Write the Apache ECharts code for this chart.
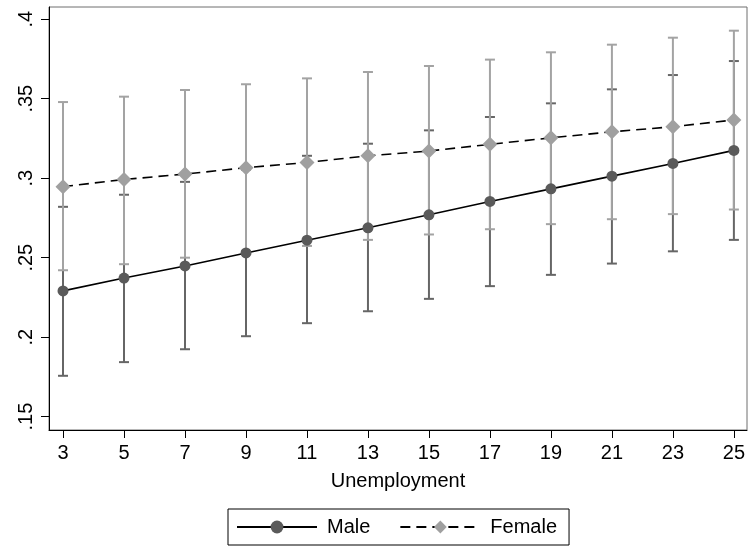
<!DOCTYPE html>
<html>
<head>
<meta charset="utf-8">
<script src="https://cdn.jsdelivr.net/npm/echarts@6/dist/echarts.min.js"></script>
<style>
html,body{margin:0;padding:0;background:#fff;}
#chart{width:750px;height:554px;}
</style>
</head>
<body>
<div id="chart"></div>
<script>
const xValues = [3, 5, 7, 9, 11, 13, 15, 17, 19, 21, 23, 25];
const maleMean = [0.2291, 0.2372, 0.2448, 0.2530, 0.2610, 0.2688, 0.2770, 0.2854, 0.2933, 0.3013, 0.3093, 0.3175];
const maleLow  = [0.1757, 0.1843, 0.1924, 0.2006, 0.2088, 0.2163, 0.2241, 0.2321, 0.2392, 0.2463, 0.2540, 0.2612];
const maleHigh = [0.2820, 0.2896, 0.2977, 0.3054, 0.3141, 0.3217, 0.3301, 0.3385, 0.3471, 0.3559, 0.3649, 0.3737];
const femaleMean = [0.2947, 0.2992, 0.3026, 0.3066, 0.3099, 0.3141, 0.3171, 0.3213, 0.3254, 0.3292, 0.3324, 0.3366];
const femaleLow  = [0.2421, 0.2459, 0.2500, 0.2539, 0.2574, 0.2612, 0.2646, 0.2679, 0.2711, 0.2742, 0.2774, 0.2803];
const femaleHigh = [0.3479, 0.3513, 0.3555, 0.3591, 0.3628, 0.3668, 0.3706, 0.3746, 0.3792, 0.3840, 0.3884, 0.3928];
const xTicks = [3, 5, 7, 9, 11, 13, 15, 17, 19, 21, 23, 25];
const yTicks = [0.15, 0.2, 0.25, 0.3, 0.35, 0.4];

const FONT = "'Liberation Sans', Arial, sans-serif";

function errorBars(low, high, color, z) {
  return {
    type: 'custom',
    z: z,
    silent: true,
    data: xValues.map((x, i) => [x, low[i], high[i]]),
    encode: { x: 0, y: [1, 2] },
    renderItem: function (params, api) {
      const x = api.value(0);
      const lo = api.coord([x, api.value(1)]);
      const hi = api.coord([x, api.value(2)]);
      const hw = 5;
      const st = { stroke: color, lineWidth: 2 };
      return {
        type: 'group',
        children: [
          { type: 'line', shape: { x1: lo[0], y1: lo[1], x2: hi[0], y2: hi[1] }, style: st },
          { type: 'line', shape: { x1: lo[0] - hw, y1: lo[1], x2: lo[0] + hw, y2: lo[1] }, style: st },
          { type: 'line', shape: { x1: hi[0] - hw, y1: hi[1], x2: hi[0] + hw, y2: hi[1] }, style: st }
        ]
      };
    }
  };
}

const chart = echarts.init(document.getElementById('chart'), null, { renderer: 'canvas' });
chart.setOption({
  animation: false,
  backgroundColor: '#ffffff',
  textStyle: { fontFamily: FONT },
  grid: {
    left: 49, right: 3, top: 7, bottom: 124,
    show: true, borderColor: '#6e6e6e', borderWidth: 1, backgroundColor: '#ffffff'
  },
  xAxis: {
    type: 'value',
    min: 2.54, max: 25.43,
    name: 'Unemployment',
    nameLocation: 'middle',
    nameGap: 41,
    nameTextStyle: { fontSize: 20, color: '#000', fontFamily: FONT },
    axisLine: { show: true, onZero: false, lineStyle: { color: '#000', width: 1 } },
    axisTick: { show: true, length: 8, customValues: xTicks, lineStyle: { color: '#000' } },
    axisLabel: { customValues: xTicks, fontSize: 20, color: '#000', margin: 13, fontFamily: FONT },
    splitLine: { show: false }
  },
  yAxis: {
    type: 'value',
    min: 0.1416, max: 0.4077,
    axisLine: { show: true, onZero: false, lineStyle: { color: '#000', width: 1 } },
    axisTick: { show: true, length: 8, customValues: yTicks, lineStyle: { color: '#000' } },
    axisLabel: {
      customValues: yTicks, fontSize: 20, color: '#000', margin: 13, rotate: 90, fontFamily: FONT,
      formatter: function (v) { return String(+v.toFixed(2)).replace(/^0/, ''); }
    },
    splitLine: { show: false }
  },
  legend: {
    data: ['Male', 'Female'],
    left: 228, top: 509,
    orient: 'horizontal',
    borderColor: '#000', borderWidth: 1,
    padding: [8, 12, 8, 8],
    itemWidth: 80, itemHeight: 16, itemGap: 29,
    textStyle: { fontSize: 20, color: '#000', fontFamily: FONT, padding: [0, 0, 0, 5] }
  },
  series: [
    errorBars(maleLow, maleHigh, '#666666', 1),
    errorBars(femaleLow, femaleHigh, '#a3a3a3', 2),
    {
      name: 'Male', type: 'line', z: 3,
      data: xValues.map((x, i) => [x, maleMean[i]]),
      symbol: 'circle', symbolSize: 11,
      itemStyle: { color: '#5a5a5a' },
      lineStyle: { color: '#000', width: 1.6, type: 'solid' }
    },
    {
      name: 'Female', type: 'line', z: 4,
      data: xValues.map((x, i) => [x, femaleMean[i]]),
      symbol: 'diamond', symbolSize: [15, 15],
      itemStyle: { color: '#a0a0a0' },
      lineStyle: { color: '#000', width: 1.6, type: [10, 6] }
    }
  ]
});
</script>
</body>
</html>
